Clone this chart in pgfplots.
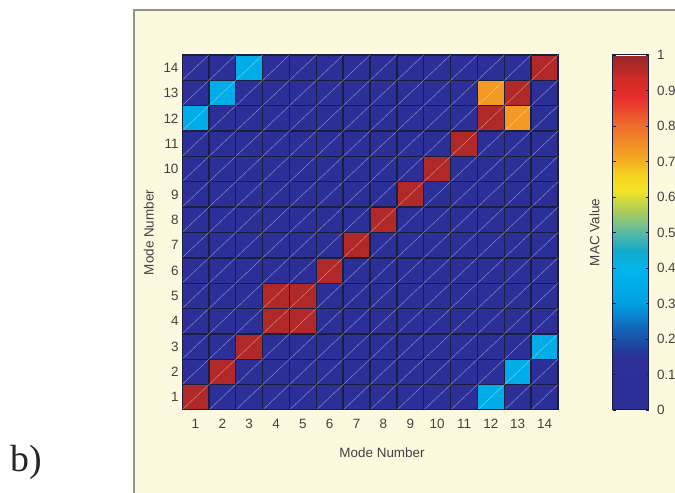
\documentclass[border=0pt]{standalone}
\usepackage{pgfplots}
\pgfplotsset{compat=1.18}
\usepackage{fontspec}
\setmainfont{Liberation Sans}
\newfontfamily\seriffont{Liberation Serif}
\definecolor{panelbg}{RGB}{253,249,222}
\definecolor{panelframe}{RGB}{150,148,135}
\definecolor{txt}{RGB}{65,65,65}
\definecolor{gridc}{RGB}{28,30,62}
\begin{document}
\begin{tikzpicture}
\path[use as bounding box] (0bp,0bp) rectangle (675bp,493bp);
\clip (0bp,0bp) rectangle (675bp,493bp);
\fill[white] (0bp,0bp) rectangle (675bp,493bp);
\filldraw[fill=panelbg, draw=panelframe, line width=1.3bp] (134bp,-10bp) rectangle (700bp,483bp);
\node[font=\seriffont\fontsize{38}{40}\selectfont, text=black!85] at (26bp,31bp) {b)};
\begin{axis}[
  at={(182bp,83bp)}, anchor=south west,
  scale only axis, width=376bp, height=355bp,
  xmin=0.5, xmax=14.5, ymin=0.5, ymax=14.5,
  xtick={1,...,14}, ytick={1,...,14},
  major tick length=0pt,
  clip marker paths=true,
  /pgf/number format/assume math mode=true,
  tick label style={font=\fontsize{13.5}{15}\selectfont, text=txt},
  xticklabel style={yshift=-5.5bp},
  label style={font=\fontsize{13.5}{15}\selectfont, text=txt},
  xlabel={Mode Number}, ylabel={Mode Number},
  xlabel style={at={(axis description cs:0.532,-0.121)}, anchor=center},
  ylabel style={at={(axis description cs:-0.088,0.5)}, anchor=center},
  axis line style={gridc, line width=1bp},
  axis on top,
  colormap={mac}{
    rgb255(0)=(44,46,150)
    rgb255(0.15)=(44,48,152)
    rgb255(0.18)=(30,70,158)
    rgb255(0.23)=(20,100,185)
    rgb255(0.3)=(0,160,225)
    rgb255(0.4)=(0,182,236)
    rgb255(0.45)=(20,170,200)
    rgb255(0.5)=(90,185,165)
    rgb255(0.56)=(170,205,90)
    rgb255(0.62)=(245,228,35)
    rgb255(0.66)=(245,212,30)
    rgb255(0.72)=(243,160,35)
    rgb255(0.8)=(238,110,45)
    rgb255(0.88)=(232,45,45)
    rgb255(0.93)=(210,42,40)
    rgb255(1)=(150,40,40)
  },
  point meta min=0, point meta max=1,
  colorbar,
  colorbar/width=36bp,
  colorbar style={
    at={(parent axis.north east)}, anchor=north west, xshift=46bp,
    ytick={0,0.1,0.2,0.3,0.4,0.5,0.6,0.7,0.8,0.9,1},
    yticklabels={0,0.1,0.2,0.3,0.4,0.5,0.6,0.7,0.8,0.9,1},
    yticklabel pos=right,
    ytick pos=both,
    tick align=inside,
    major tick length=3bp,
    major tick style={gridc, line width=0.8bp},
    yticklabel style={font=\fontsize{13.5}{15}\selectfont, text=txt, xshift=5bp},
    ylabel={MAC Value},
    ylabel style={font=\fontsize{13.5}{15}\selectfont, text=txt, at={(axis description cs:-0.5,0.5)}, anchor=center},
    axis line style={gridc, line width=1bp},
  },
]
\addplot[scatter, only marks, scatter src=explicit, mark=square*, mark size=13.43bp,
  mark options={yscale=0.944, line width=1.3bp},
  scatter/use mapped color={draw=gridc, fill=mapped color}]
 table[row sep=\\, meta=z] {
x y z\\
1 1 0.97\\ 2 1 0.05\\ 3 1 0.05\\ 4 1 0.05\\ 5 1 0.05\\ 6 1 0.05\\ 7 1 0.05\\ 8 1 0.05\\ 9 1 0.05\\ 10 1 0.05\\ 11 1 0.05\\ 12 1 0.36\\ 13 1 0.05\\ 14 1 0.05\\
1 2 0.05\\ 2 2 0.97\\ 3 2 0.05\\ 4 2 0.05\\ 5 2 0.05\\ 6 2 0.05\\ 7 2 0.05\\ 8 2 0.05\\ 9 2 0.05\\ 10 2 0.05\\ 11 2 0.05\\ 12 2 0.05\\ 13 2 0.36\\ 14 2 0.05\\
1 3 0.05\\ 2 3 0.05\\ 3 3 0.97\\ 4 3 0.05\\ 5 3 0.05\\ 6 3 0.05\\ 7 3 0.05\\ 8 3 0.05\\ 9 3 0.05\\ 10 3 0.05\\ 11 3 0.05\\ 12 3 0.05\\ 13 3 0.05\\ 14 3 0.36\\
1 4 0.05\\ 2 4 0.05\\ 3 4 0.05\\ 4 4 0.97\\ 5 4 0.97\\ 6 4 0.05\\ 7 4 0.05\\ 8 4 0.05\\ 9 4 0.05\\ 10 4 0.05\\ 11 4 0.05\\ 12 4 0.05\\ 13 4 0.05\\ 14 4 0.05\\
1 5 0.05\\ 2 5 0.05\\ 3 5 0.05\\ 4 5 0.97\\ 5 5 0.97\\ 6 5 0.05\\ 7 5 0.05\\ 8 5 0.05\\ 9 5 0.05\\ 10 5 0.05\\ 11 5 0.05\\ 12 5 0.05\\ 13 5 0.05\\ 14 5 0.05\\
1 6 0.05\\ 2 6 0.05\\ 3 6 0.05\\ 4 6 0.05\\ 5 6 0.05\\ 6 6 0.97\\ 7 6 0.05\\ 8 6 0.05\\ 9 6 0.05\\ 10 6 0.05\\ 11 6 0.05\\ 12 6 0.05\\ 13 6 0.05\\ 14 6 0.05\\
1 7 0.05\\ 2 7 0.05\\ 3 7 0.05\\ 4 7 0.05\\ 5 7 0.05\\ 6 7 0.05\\ 7 7 0.97\\ 8 7 0.05\\ 9 7 0.05\\ 10 7 0.05\\ 11 7 0.05\\ 12 7 0.05\\ 13 7 0.05\\ 14 7 0.05\\
1 8 0.05\\ 2 8 0.05\\ 3 8 0.05\\ 4 8 0.05\\ 5 8 0.05\\ 6 8 0.05\\ 7 8 0.05\\ 8 8 0.97\\ 9 8 0.05\\ 10 8 0.05\\ 11 8 0.05\\ 12 8 0.05\\ 13 8 0.05\\ 14 8 0.05\\
1 9 0.05\\ 2 9 0.05\\ 3 9 0.05\\ 4 9 0.05\\ 5 9 0.05\\ 6 9 0.05\\ 7 9 0.05\\ 8 9 0.05\\ 9 9 0.97\\ 10 9 0.05\\ 11 9 0.05\\ 12 9 0.05\\ 13 9 0.05\\ 14 9 0.05\\
1 10 0.05\\ 2 10 0.05\\ 3 10 0.05\\ 4 10 0.05\\ 5 10 0.05\\ 6 10 0.05\\ 7 10 0.05\\ 8 10 0.05\\ 9 10 0.05\\ 10 10 0.97\\ 11 10 0.05\\ 12 10 0.05\\ 13 10 0.05\\ 14 10 0.05\\
1 11 0.05\\ 2 11 0.05\\ 3 11 0.05\\ 4 11 0.05\\ 5 11 0.05\\ 6 11 0.05\\ 7 11 0.05\\ 8 11 0.05\\ 9 11 0.05\\ 10 11 0.05\\ 11 11 0.97\\ 12 11 0.05\\ 13 11 0.05\\ 14 11 0.05\\
1 12 0.36\\ 2 12 0.05\\ 3 12 0.05\\ 4 12 0.05\\ 5 12 0.05\\ 6 12 0.05\\ 7 12 0.05\\ 8 12 0.05\\ 9 12 0.05\\ 10 12 0.05\\ 11 12 0.05\\ 12 12 0.97\\ 13 12 0.73\\ 14 12 0.05\\
1 13 0.05\\ 2 13 0.36\\ 3 13 0.05\\ 4 13 0.05\\ 5 13 0.05\\ 6 13 0.05\\ 7 13 0.05\\ 8 13 0.05\\ 9 13 0.05\\ 10 13 0.05\\ 11 13 0.05\\ 12 13 0.73\\ 13 13 0.97\\ 14 13 0.05\\
1 14 0.05\\ 2 14 0.05\\ 3 14 0.36\\ 4 14 0.05\\ 5 14 0.05\\ 6 14 0.05\\ 7 14 0.05\\ 8 14 0.05\\ 9 14 0.05\\ 10 14 0.05\\ 11 14 0.05\\ 12 14 0.05\\ 13 14 0.05\\ 14 14 0.97\\
};
\addplot[white, opacity=0.45, line width=0.45bp, no markers, forget plot, unbounded coords=jump] coordinates {
(0.5,-12.5) (14.5,1.5) (nan,nan)
(0.5,-11.5) (14.5,2.5) (nan,nan)
(0.5,-10.5) (14.5,3.5) (nan,nan)
(0.5,-9.5) (14.5,4.5) (nan,nan)
(0.5,-8.5) (14.5,5.5) (nan,nan)
(0.5,-7.5) (14.5,6.5) (nan,nan)
(0.5,-6.5) (14.5,7.5) (nan,nan)
(0.5,-5.5) (14.5,8.5) (nan,nan)
(0.5,-4.5) (14.5,9.5) (nan,nan)
(0.5,-3.5) (14.5,10.5) (nan,nan)
(0.5,-2.5) (14.5,11.5) (nan,nan)
(0.5,-1.5) (14.5,12.5) (nan,nan)
(0.5,-0.5) (14.5,13.5) (nan,nan)
(0.5,0.5) (14.5,14.5) (nan,nan)
(0.5,1.5) (14.5,15.5) (nan,nan)
(0.5,2.5) (14.5,16.5) (nan,nan)
(0.5,3.5) (14.5,17.5) (nan,nan)
(0.5,4.5) (14.5,18.5) (nan,nan)
(0.5,5.5) (14.5,19.5) (nan,nan)
(0.5,6.5) (14.5,20.5) (nan,nan)
(0.5,7.5) (14.5,21.5) (nan,nan)
(0.5,8.5) (14.5,22.5) (nan,nan)
(0.5,9.5) (14.5,23.5) (nan,nan)
(0.5,10.5) (14.5,24.5) (nan,nan)
(0.5,11.5) (14.5,25.5) (nan,nan)
(0.5,12.5) (14.5,26.5) (nan,nan)
(0.5,13.5) (14.5,27.5)
};
\end{axis}
\end{tikzpicture}
\end{document}
